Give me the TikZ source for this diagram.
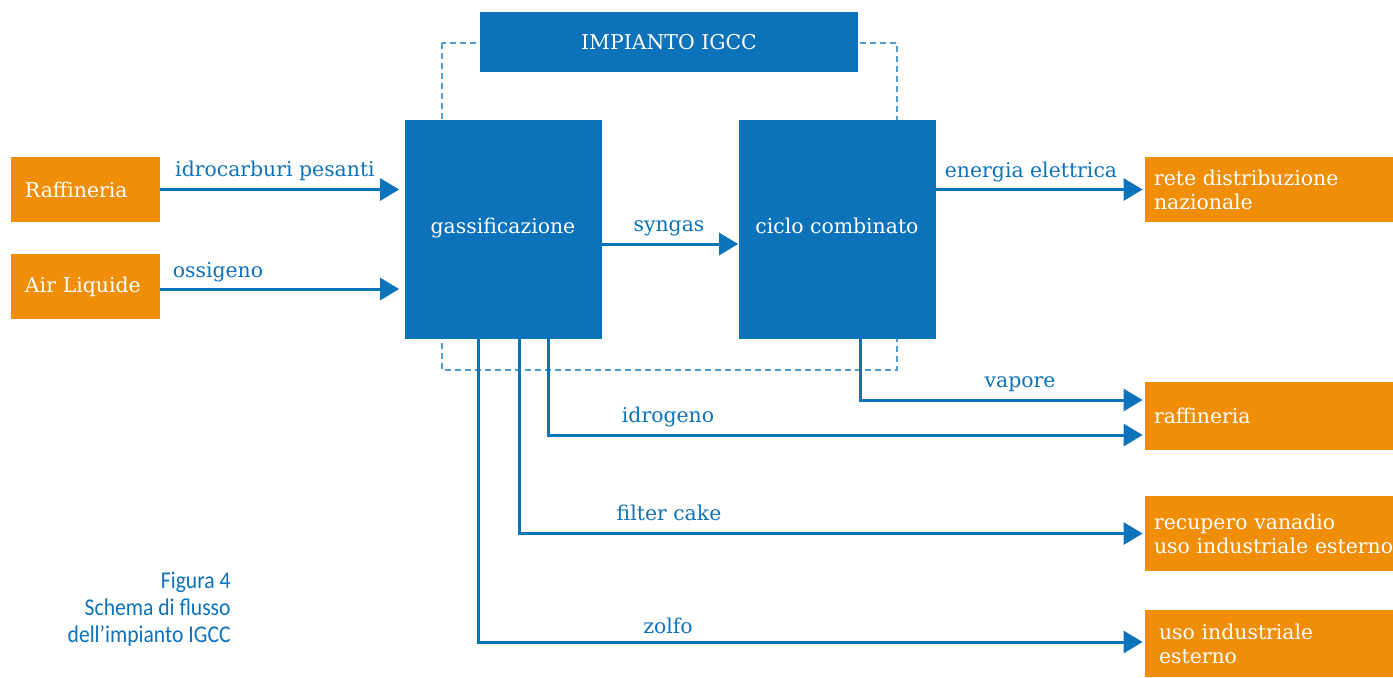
\documentclass[tikz,border=0pt]{standalone}
\usepackage{fontspec}
\setmainfont{DejaVu Serif}
\newfontfamily\capfont[FakeStretch=0.9]{Carlito}
\usetikzlibrary{arrows.meta,calc}
\definecolor{igblue}{RGB}{12,114,185}
\definecolor{igorange}{RGB}{240,142,8}
\definecolor{igdash}{RGB}{80,155,210}
\newcommand{\slab}{\fontsize{10.2}{12}\selectfont}
\tikzset{
  plant/.style={fill=igblue, text=white, inner sep=0pt,
    minimum width=98.5pt, minimum height=109.5pt, font=\slab},
  src/.style={fill=igorange, text=white, inner xsep=7pt, inner ysep=0pt,
    text width=60.5pt, minimum height=32.5pt, align=left, font=\slab},
  dst/.style={fill=igorange, text=white, inner xsep=4.5pt, inner ysep=0pt,
    text width=115pt, align=left, font=\slab},
  flow/.style={draw=igblue, line width=1.5pt, -{Triangle[length=9.5pt,width=11pt]}},
  flowlabel/.style={text=igblue, anchor=base, inner sep=0pt, font=\slab},
}
\begin{document}
\begin{tikzpicture}[x=0.5pt, y=-0.5pt]
  \useasboundingbox (0,0) rectangle (1393,677);

  % dashed outline of the plant
  \draw[igdash, line width=0.7pt, dash pattern=on 3pt off 2pt] (442,43) rectangle (897,370);

  % plant header and units
  \node[fill=igblue, text=white, minimum width=189pt, minimum height=30pt, font=\slab] (title) at (669,42) {IMPIANTO IGCC};
  \node[plant] (gas) at (503,229.5) {\raisebox{3.5pt}{gassificazione}};
  \node[plant] (ciclo) at (837,229.5) {\raisebox{3.5pt}{ciclo combinato}};

  % inputs
  \node[src] (raff) at (85.5,189.5) {Raffineria};
  \node[src] (air) at (85.5,286.5) {Air Liquide};

  % outputs
  \node[dst, minimum height=32.5pt] (rete) at (1269,189.5) {rete distribuzione\\nazionale};
  \node[dst, minimum height=34pt] (raff2) at (1269,416) {raffineria};
  \node[dst, minimum height=37.5pt] (recup) at (1269,533.5) {recupero vanadio\\\mbox{uso industriale esterno}};
  \node[dst, minimum height=33.5pt, inner xsep=7pt, text width=110pt] (uso) at (1269,643.5) {uso industriale\\esterno};

  % flows
  \draw[flow, shorten >=2.5pt] (raff.east) -- (raff.east -| gas.west);
  \draw[flow, shorten >=2.5pt] ($(air.east)+(0,2.5)$) -- ($(air.east -| gas.west)+(0,2.5)$);
  \draw[flow] ($(gas.east)+(0,14.5)$) -- ($(ciclo.west)+(0,14.5)$);
  \draw[flow, shorten >=1pt] (ciclo.east |- rete.west) -- (rete.west);
  \draw[flow, shorten >=1pt] ($(ciclo.south)+(23,0)$) |- ($(raff2.west)+(0,-16)$);
  \draw[flow, shorten >=1pt] ($(gas.south)+(45,0)$) |- ($(raff2.west)+(0,19)$);
  \draw[flow, shorten >=1pt] ($(gas.south)+(16,0)$) |- (recup.west);
  \draw[flow, shorten >=1pt] ($(gas.south)+(-25,0)$) |- ($(uso.west)+(0,-1.5)$);

  % flow labels
  \node[flowlabel] (lhc) at (275,176.5) {idrocarburi pesanti};
  \node[flowlabel] (lox) at (218,277) {ossigeno};
  \node[flowlabel] (lsy) at (669,231.5) {syngas};
  \node[flowlabel] (lel) at (1031,177) {energia elettrica};
  \node[flowlabel] (lva) at (1020,387.5) {vapore};
  \node[flowlabel] (lh2) at (668,422) {idrogeno};
  \node[flowlabel] (lfc) at (669,520.5) {filter cake};
  \node[flowlabel] (lzo) at (668,633.5) {zolfo};

  % caption
  \node[anchor=east, align=right, inner sep=0pt, text=igblue,
    font=\capfont\fontsize{12}{13.5}\selectfont] (cap) at (231,609)
    {Figura 4\\Schema di flusso\\dell’impianto IGCC};
\end{tikzpicture}
\end{document}
